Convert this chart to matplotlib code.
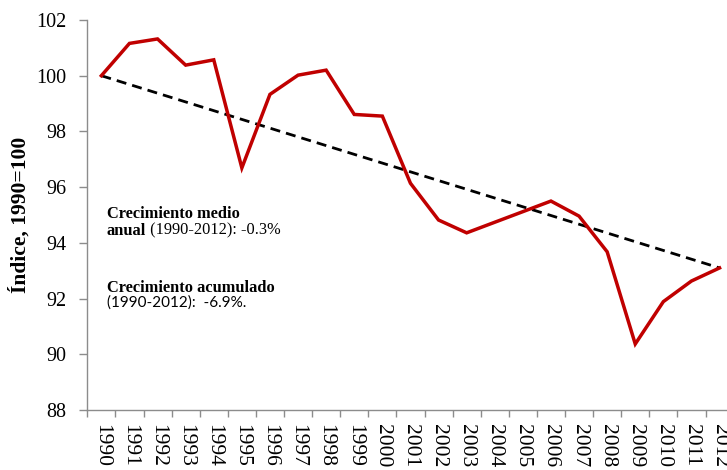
import matplotlib.pyplot as plt
import numpy as np

# Indice de las series 1990-2012 (base 1990=100)
years = [str(y) for y in range(1990, 2013)]
indice = [100.0, 101.16, 101.32, 100.38, 100.57, 96.69, 99.33, 100.02, 100.20,
          98.61, 98.55, 96.14, 94.82, 94.36, 94.74, 95.12, 95.50, 94.96, 93.68,
          90.37, 91.89, 92.63, 93.10]
tendencia = [100.0, 93.10]   # recta entre 1990 y 2012

y_ticks = [88, 90, 92, 94, 96, 98, 100, 102]

plt.rcParams["font.family"] = "serif"
plt.rcParams["font.serif"] = ["Liberation Serif", "DejaVu Serif"]

fig = plt.figure(figsize=(7.27, 4.70), dpi=100)
# el eje x se sale un poco por la derecha de la figura
ax = fig.add_axes([87.3 / 727, 60 / 470, 646.3 / 727, 390 / 470])

x = np.arange(len(years))
ax.plot(x, indice, color="#C00000", lw=2.5, solid_joinstyle="miter", zorder=3)
ax.plot([x[0], x[-1]], tendencia, color="black", lw=2,
        linestyle=(0, (3.6, 2.2)), zorder=2)

ax.set_xlim(-0.5, len(years) - 0.5)
ax.set_ylim(88, 102)
ax.set_yticks(y_ticks)
ax.set_yticklabels([str(v) for v in y_ticks], fontsize=14.5)
ax.set_xticks(x)
ax.set_xticklabels(years, rotation=-90, fontsize=15.5, va="top", ha="center")
ax.set_xticks(np.arange(-0.5, len(years)), minor=True)
ax.tick_params(axis="x", which="major", length=0, pad=10)
ax.tick_params(axis="x", which="minor", length=5, color="#8c8c8c", width=1)
ax.tick_params(axis="y", length=6, color="#8c8c8c", width=1, pad=9)

for s in ["top", "right"]:
    ax.spines[s].set_visible(False)
for s in ["left", "bottom"]:
    ax.spines[s].set_color("#8c8c8c")
    ax.spines[s].set_linewidth(1)

ax.set_ylabel("Índice, 1990=100", fontweight="bold", fontsize=15.5)
ax.yaxis.set_label_coords(-0.087, 0.5)

# Textos de crecimiento
ax.text(0.030, 0.493, "Crecimiento medio", transform=ax.transAxes,
        fontweight="bold", fontsize=11.8, va="baseline")
t1 = ax.text(0.030, 0.449, "anual", transform=ax.transAxes,
             fontweight="bold", fontsize=11.8, va="baseline")
ax.annotate(" (1990-2012): -0.3%", xy=(1, 0), xycoords=t1, va="bottom",
            fontsize=11.8)
ax.text(0.030, 0.303, "Crecimiento acumulado", transform=ax.transAxes,
        fontweight="bold", fontsize=11.8, va="baseline")
ax.text(0.030, 0.264, "(1990-2012):  -6.9%.", transform=ax.transAxes,
        family=["Lato", "DejaVu Sans"], fontsize=11, va="baseline")

fig.savefig("out.png", dpi=100)
